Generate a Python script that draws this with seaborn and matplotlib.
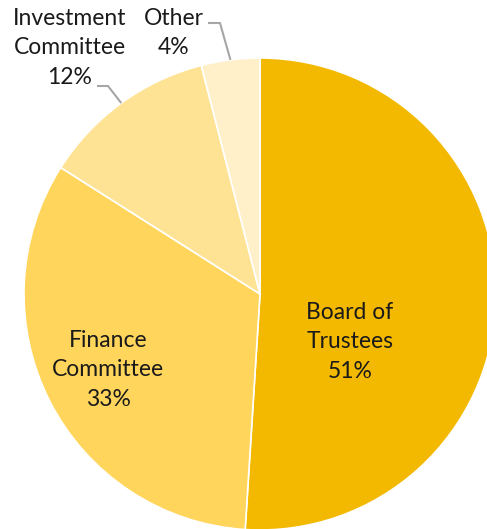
import matplotlib
matplotlib.use("Agg")
import matplotlib.pyplot as plt
import seaborn as sns
import numpy as np

categories = ["Board of\nTrustees", "Finance\nCommittee", "Investment\nCommittee", "Other"]
values = [51, 33, 12, 4]
pct_labels = ["51%", "33%", "12%", "4%"]
colors = ["#F3B900", "#FFD55C", "#FFE394", "#FFF0CA"]

sns.set_theme(style="white")
plt.rcParams['font.family'] = ['Lato', 'DejaVu Sans']

fig = plt.figure(figsize=(4.87, 5.29), dpi=100)
ax = fig.add_axes([0, 0, 1, 1])
ax.axis("off")

wedges, _ = ax.pie(values, colors=colors, startangle=90, counterclock=False,
                   radius=1.0, center=(0, 0),
                   wedgeprops=dict(edgecolor="white", linewidth=1.2))

r_px = 236.0
cx, cy = 260.0, 294.0
W, H = 487, 529
ax.set_xlim(-cx / r_px, (W - cx) / r_px)
ax.set_ylim((cy - H) / r_px, cy / r_px)
ax.set_aspect("auto")

fs = 16.5
ls = 1.5
txt_color = "#1a1a1a"

def px(x, y):
    return ((x - cx) / r_px, (cy - y) / r_px)

# inside labels
lx, ly = px(350, 342)
ax.text(lx, ly, categories[0] + "\n" + pct_labels[0], ha="center", va="center",
        fontsize=fs, color=txt_color, linespacing=ls)
lx, ly = px(108, 370)
ax.text(lx, ly, categories[1] + "\n" + pct_labels[1], ha="center", va="center",
        fontsize=fs, color=txt_color, linespacing=ls)
# outside labels
lx, ly = px(70, 48)
ax.text(lx, ly, categories[2] + "\n" + pct_labels[2], ha="center", va="center",
        fontsize=fs, color=txt_color, linespacing=ls)
lx, ly = px(174, 33)
ax.text(lx, ly, categories[3] + "\n" + pct_labels[3], ha="center", va="center",
        fontsize=fs, color=txt_color, linespacing=ls)

# leader lines to wedge mid-angle edges
def mid_edge(w):
    a = np.deg2rad((w.theta1 + w.theta2) / 2)
    return np.cos(a), np.sin(a)

ex, ey = mid_edge(wedges[2])
p0 = px(97, 86); p1 = px(108, 86)
ax.plot([p0[0], p1[0], ex], [p0[1], p1[1], ey], color="#A6A6A6", lw=1.5,
        solid_capstyle="butt")
ex, ey = mid_edge(wedges[3])
p0 = px(208, 23); p1 = px(220, 23)
ax.plot([p0[0], p1[0], ex], [p0[1], p1[1], ey], color="#A6A6A6", lw=1.5,
        solid_capstyle="butt")

fig.savefig("out.png", dpi=100, facecolor="white")
